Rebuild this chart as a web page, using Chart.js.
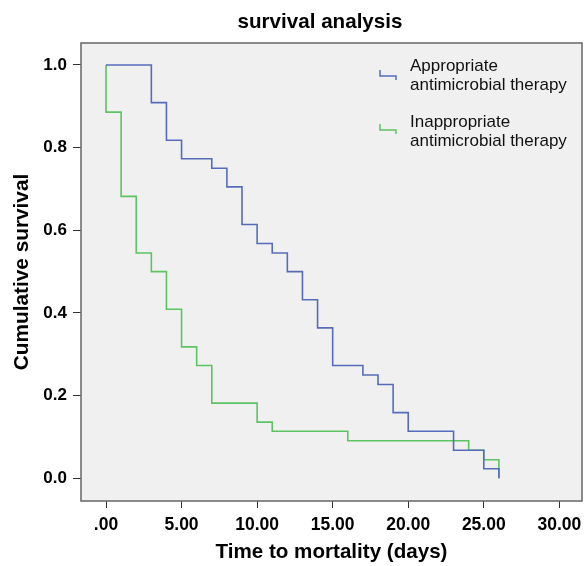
<!DOCTYPE html>
<html><head><meta charset="utf-8">
<script src="https://cdn.jsdelivr.net/npm/chart.js@4"></script>
<style>html,body{margin:0;padding:0;background:#fff}#wrap{width:584px;height:566px}</style>
</head><body><div id="wrap"><canvas id="c" width="584" height="566"></canvas></div>
<script>
const chartTitle = 'survival analysis';
const xAxisTitle = 'Time to mortality (days)';
const yAxisTitle = 'Cumulative survival';
const seriesLabels = [['Appropriate', 'antimicrobial therapy'], ['Inappropriate', 'antimicrobial therapy']];
const seriesColors = ['#566cba', '#5cc463'];

const appropriateTimes    = [0, 3, 4, 5, 7, 8, 9, 10, 11, 12, 13, 14, 15, 17, 18, 19, 20, 23, 25, 26];
const appropriateSurvival = [1, 0.909, 0.818, 0.773, 0.75, 0.705, 0.614, 0.568, 0.545, 0.5, 0.432, 0.364, 0.273, 0.25, 0.227, 0.159, 0.114, 0.068, 0.023, 0];
const inappropriateTimes    = [0, 0, 1, 2, 3, 4, 5, 6, 7, 10, 11, 16, 24, 25, 26];
const inappropriateSurvival = [1, 0.886, 0.682, 0.545, 0.5, 0.409, 0.318, 0.273, 0.182, 0.136, 0.114, 0.091, 0.068, 0.045, 0];

const xTickValues = [0, 5, 10, 15, 20, 25, 30];
const xTickLabels = ['.00', '5.00', '10.00', '15.00', '20.00', '25.00', '30.00'];
const yTickValues = [0, 0.2, 0.4, 0.6, 0.8, 1.0];
const yTickLabels = ['0.0', '0.2', '0.4', '0.6', '0.8', '1.0'];

const FONT = "'Liberation Sans', Arial, sans-serif";
const toPoints = (t, s) => t.map((v, i) => ({x: v, y: s[i]}));

const framePlugin = {
  id: 'frame',
  beforeDraw(chart) {
    const {ctx, chartArea: a} = chart;
    ctx.save();
    ctx.fillStyle = '#f0f0f0';
    ctx.fillRect(a.left, a.top, a.right - a.left, a.bottom - a.top);
    ctx.restore();
  },
  afterDatasetsDraw(chart) {
    const {ctx, chartArea: a} = chart;
    ctx.save();
    ctx.strokeStyle = '#666';
    ctx.lineWidth = 1.5;
    ctx.strokeRect(a.left, a.top, a.right - a.left, a.bottom - a.top);
    ctx.restore();
  },
  afterDraw(chart) {
    const {ctx} = chart;
    ctx.save();
    ctx.fillStyle = '#000';
    ctx.font = 'bold 20.6px ' + FONT;
    ctx.textAlign = 'center';
    ctx.textBaseline = 'alphabetic';
    ctx.fillText(chartTitle, 320, 28);
    // legend
    const rows = [{y: 70, base: 71}, {y: 124, base: 127}];
    chart.data.datasets.forEach((ds, i) => {
      const r = rows[i];
      ctx.strokeStyle = ds.borderColor;
      ctx.lineWidth = 1.5;
      ctx.beginPath();
      ctx.moveTo(380, r.y);
      ctx.lineTo(380, r.y + 6);
      ctx.lineTo(396, r.y + 6);
      ctx.lineTo(396, r.y + 10);
      ctx.stroke();
      ctx.fillStyle = '#111';
      ctx.font = '17px ' + FONT;
      ctx.textAlign = 'left';
      ds.label.forEach((line, j) => ctx.fillText(line, 410, r.base + j * 19));
    });
    ctx.restore();
  }
};

new Chart(document.getElementById('c'), {
  type: 'line',
  data: {
    datasets: [
      {label: seriesLabels[0], data: toPoints(appropriateTimes, appropriateSurvival), borderColor: seriesColors[0]},
      {label: seriesLabels[1], data: toPoints(inappropriateTimes, inappropriateSurvival), borderColor: seriesColors[1]}
    ].map(d => Object.assign(d, {stepped: true, borderWidth: 1.6, pointRadius: 0, fill: false, tension: 0}))
  },
  options: {
    responsive: false,
    devicePixelRatio: 1,
    animation: false,
    layout: {padding: {top: 43, right: 2, left: 0, bottom: 0}},
    plugins: {legend: {display: false}, title: {display: false}, tooltip: {enabled: false}},
    scales: {
      x: {
        type: 'linear', min: -1.655, max: 31.5,
        afterBuildTicks: s => { s.ticks = xTickValues.map(v => ({value: v})); },
        afterFit: s => { s.height = 65; s.paddingLeft = 0; s.paddingRight = 0; },
        grid: {drawOnChartArea: false, drawTicks: true, tickLength: 7, color: '#333', lineWidth: 1},
        border: {display: false},
        ticks: {
          autoSkip: false, maxRotation: 0, padding: 7, color: '#000',
          font: {family: FONT, size: 17.5, weight: 'bold'},
          callback: v => xTickLabels[xTickValues.indexOf(v)]
        },
        title: {display: true, text: xAxisTitle, color: '#000', font: {family: FONT, size: 20.6, weight: 'bold'}, padding: {top: 0, bottom: 1}}
      },
      y: {
        type: 'linear', min: -0.0549, max: 1.0532,
        afterBuildTicks: s => { s.ticks = yTickValues.map(v => ({value: v})); },
        afterFit: s => { s.width = 81; s.paddingTop = 0; s.paddingBottom = 0; },
        grid: {drawOnChartArea: false, drawTicks: true, tickLength: 8, color: '#333', lineWidth: 1},
        border: {display: false},
        ticks: {
          autoSkip: false, padding: 6, color: '#000',
          font: {family: FONT, size: 17, weight: 'bold'},
          callback: v => yTickLabels[yTickValues.indexOf(v)]
        },
        title: {display: true, text: yAxisTitle, color: '#000', font: {family: FONT, size: 20.8, weight: 'bold'}, padding: {top: 10, bottom: 0}}
      }
    }
  },
  plugins: [framePlugin]
});
</script>
</body></html>
